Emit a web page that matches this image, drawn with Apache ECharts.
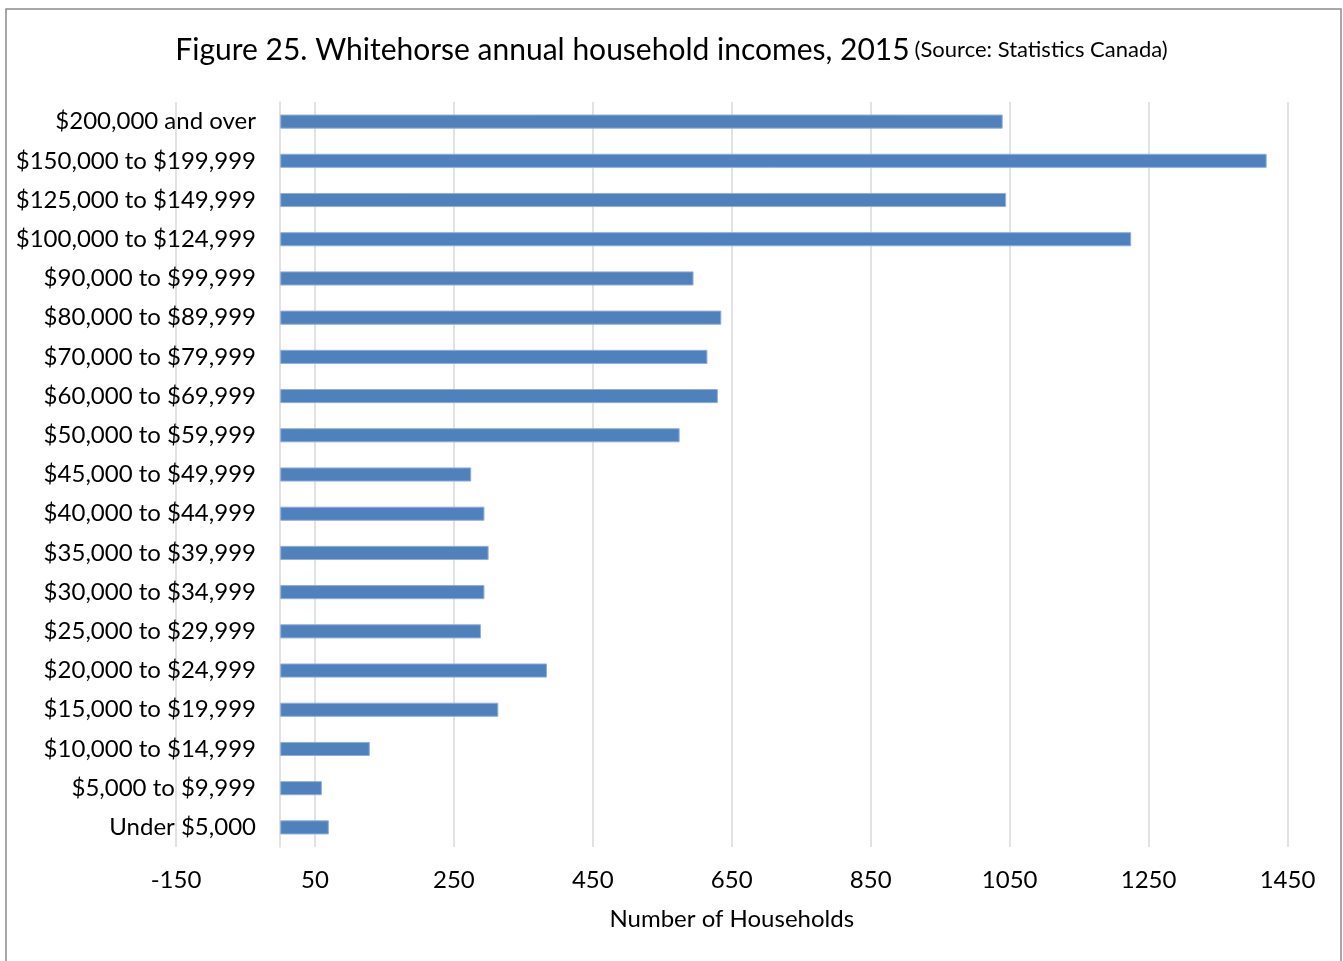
<!DOCTYPE html>
<html>
<head>
<meta charset="utf-8">
<script src="https://cdn.jsdelivr.net/npm/echarts@6/dist/echarts.min.js"></script>
<style>
html,body{margin:0;padding:0;background:#fff;}
#chart{width:1343px;height:961px;}
</style>
</head>
<body>
<div id="chart"></div>
<script>
const categories = [
  "Under $5,000", "$5,000 to $9,999", "$10,000 to $14,999", "$15,000 to $19,999",
  "$20,000 to $24,999", "$25,000 to $29,999", "$30,000 to $34,999", "$35,000 to $39,999",
  "$40,000 to $44,999", "$45,000 to $49,999", "$50,000 to $59,999", "$60,000 to $69,999",
  "$70,000 to $79,999", "$80,000 to $89,999", "$90,000 to $99,999", "$100,000 to $124,999",
  "$125,000 to $149,999", "$150,000 to $199,999", "$200,000 and over"
];
const households = [70, 60, 129, 314, 384, 289, 294, 300, 294, 275, 575, 630, 615, 635, 595, 1225, 1045, 1420, 1040];
const xMin = -150, xMax = 1450, xStep = 200;

const FONT = 'Lato, "Open Sans", sans-serif';
const chart = echarts.init(document.getElementById('chart'), null, {renderer: 'canvas'});
chart.setOption({
  animation: false,
  backgroundColor: '#fff',
  title: {
    text: '{a|Figure 25. Whitehorse annual household incomes, 2015} {b|(Source: Statistics Canada)}',
    left: 'center',
    top: 30,
    textStyle: {
      fontWeight: 'normal',
      rich: {
        a: {fontFamily: FONT, fontSize: 30, color: '#000', fontWeight: 'normal'},
        b: {fontFamily: FONT, fontSize: 22, color: '#000', fontWeight: 'normal'}
      }
    }
  },
  graphic: [{
    type: 'rect',
    shape: {x: 6, y: 9, width: 1335, height: 962},
    style: {fill: 'none', stroke: '#8c8c8c', lineWidth: 1.5},
    silent: true
  }],
  grid: {left: 176, right: 55.5, top: 102, bottom: 114, containLabel: false, outerBoundsMode: 'none'},
  xAxis: {
    type: 'value',
    min: xMin, max: xMax, interval: xStep,
    name: 'Number of Households',
    nameLocation: 'middle',
    nameGap: 60,
    nameTextStyle: {fontFamily: FONT, fontSize: 24, color: '#000'},
    axisLine: {show: false},
    axisTick: {show: false},
    axisLabel: {fontFamily: FONT, fontSize: 24, color: '#000', margin: 21, formatter: v => String(v)},
    splitLine: {show: true, lineStyle: {color: '#d9d9d9', width: 1.5}}
  },
  yAxis: {
    type: 'category',
    data: categories,
    axisLine: {show: true, onZero: true, lineStyle: {color: '#d9d9d9', width: 1.5}},
    axisTick: {show: false},
    axisLabel: {fontFamily: FONT, fontSize: 24, color: '#000', margin: -80},
    splitLine: {show: false}
  },
  series: [{
    type: 'bar',
    data: households,
    barWidth: '36%',
    itemStyle: {color: '#4f81bd', borderColor: '#92aed6', borderWidth: 1}
  }]
});
</script>
</body>
</html>
